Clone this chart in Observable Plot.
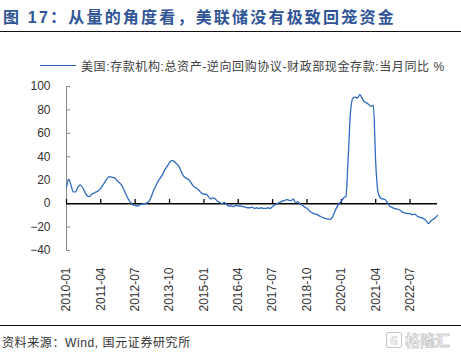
<!DOCTYPE html>
<html>
<head>
<meta charset="utf-8">
<script src="https://cdn.jsdelivr.net/npm/d3@7"></script>
<script src="https://cdn.jsdelivr.net/npm/@observablehq/plot@0.6"></script>
<style>
  html, body { margin: 0; padding: 0; background: #fff; }
  #wrap { position: relative; width: 461px; height: 352px; overflow: hidden;
          font-family: "Liberation Sans", Arial, "Noto Sans CJK SC", sans-serif; }
  #title { position: absolute; left: 3px; top: 4px; font-size: 16px; font-weight: bold;
           color: #2f5496; letter-spacing: 2.2px; white-space: nowrap;
           font-family: "Liberation Sans", "Noto Sans CJK SC", sans-serif; }
  .hr { position: absolute; left: 0; width: 461px; height: 1.5px; background: #111; }
  #legend { position: absolute; left: 40px; top: 57px; height: 16px; display: flex; align-items: center; white-space: nowrap; }
  #legend .sw { width: 36px; height: 0; border-top: 1.5px solid #1f5fa8; margin-right: 5px; }
  #legend .lt { font-size: 12px; color: #404040; letter-spacing: 0.6px;
                font-family: "Liberation Sans", "Noto Sans CJK SC", sans-serif; }
  #chart { position: absolute; left: 0; top: 76px; }
  #source { position: absolute; left: 2px; top: 333px; font-size: 12px; color: #333; letter-spacing: 0.6px; white-space: nowrap;
            font-family: "Liberation Sans", "Noto Sans CJK SC", sans-serif; }
  #wm { position: absolute; left: 386px; top: 329px; font-size: 15px; font-weight: bold; color: #fff;
        -webkit-text-stroke: 0.8px #c8c8c8; display: flex; align-items: center; letter-spacing: 0px;
        font-family: "Noto Sans CJK SC", sans-serif; }
  #wm .g { display: inline-block; width: 14px; height: 14px; border: 1.5px solid #c8c8c8; border-radius: 2px;
           font-size: 11px; line-height: 14px; text-align: center; margin-right: 3px; -webkit-text-stroke: 0.6px #c8c8c8; }
</style>
</head>
<body>
<div id="wrap">
  <div id="title">图 17：从量的角度看，美联储没有极致回笼资金</div>
  <div class="hr" style="top:30.5px"></div>
  <div id="legend"><div class="sw"></div><div class="lt" id="legendText"></div></div>
  <div id="chart"></div>
  <div class="hr" style="top:324.5px"></div>
  <div id="source">资料来源：Wind, 国元证券研究所</div>
  <div id="wm"><span class="g">G</span>格隆汇</div>
</div>
<script>
// ---- data ----
const seriesName = "美国:存款机构:总资产-逆向回购协议-财政部现金存款:当月同比 %";
const startYear = 2010;   // first month: 2010-01
const startMonth = 1;
// monthly YoY values (%), 2010-01 .. 2023-07
const values = [
  14, 21, 16, 10, 10, 14, 16, 14, 10, 7, 6, 8,                 // 2010
  9, 10, 11, 13, 16, 19, 22, 23, 22.5, 22, 20, 18,             // 2011
  16, 12, 8, 4, 1, -1, -1.5, -2, -1, -0.5, 0, 0.5,             // 2012
  2, 6, 11, 15, 19, 22, 25, 29, 32, 35, 37, 36,                // 2013
  34, 32, 28, 24, 22, 21, 19, 16, 14, 13, 11, 9,               // 2014
  8, 8, 6, 4, 5, 4, 2, 1, 0, 1, -1, -2,                        // 2015
  -2, -2.5, -1.5, -2, -2, -2.5, -3, -3.5, -3.5, -3, -4, -3.5,  // 2016
  -4, -3.5, -4, -4, -3.5, -4, -2.5, -1, 0, 1, 2, 2.5,          // 2017
  3.5, 3, 2.5, 4, 1, 1.5, 0, -1.5, -3, -4, -6, -7.5,           // 2018
  -8.5, -9, -10, -11, -12, -12.5, -13, -13.5, -12, -7.5, -3, 0,// 2019
  2, 5, 6, 40, 78, 90, 91, 90, 93, 90, 87, 86,                 // 2020
  84.5, 83, 84, 35, 10, 5, 4, 3.5, 1, -2, -3, -4,              // 2021
  -4.5, -5, -6, -7.5, -8, -8.5, -8.5, -9.5, -9, -10.5, -11.5, -12, // 2022
  -13, -14.5, -17, -15, -13.5, -12, -10                        // 2023
];
const xTickLabels = ["2010-01","2011-04","2012-07","2013-10","2015-01","2016-04","2017-07","2018-10","2020-01","2021-04","2022-07"];
const yTicks = [-40, -20, 0, 20, 40, 60, 80, 100];

// ---- build ----
document.getElementById("legendText").textContent = seriesName;
const toDate = (s) => { const [y, m] = s.split("-").map(Number); return new Date(Date.UTC(y, m - 1, 1)); };
const data = values.map((v, i) => ({ date: new Date(Date.UTC(startYear, startMonth - 1 + i, 1)), value: v }));
const xTicks = xTickLabels.map(toDate);
const x0 = data[0].date;
const x1 = data[data.length - 1].date;

const chart = Plot.plot({
  width: 461,
  height: 245,
  marginLeft: 66,
  marginRight: 24,
  marginTop: 10,
  marginBottom: 71,
  style: { fontFamily: "Liberation Sans, Arial, sans-serif", fontSize: "12px", color: "#333", background: "transparent", overflow: "visible" },
  x: { type: "utc", domain: [x0, x1], axis: null },
  y: { domain: [-40, 100] },
  marks: [
    Plot.ruleX([x0], { y1: -40, y2: 100, stroke: "#8a8a8a", strokeWidth: 1 }),
    Plot.axisY(yTicks, { anchor: "left", tickSize: -4, tickPadding: 20, stroke: "#8a8a8a", fill: "#333", fontSize: 12, label: null }),
    Plot.ruleY([0], { stroke: "#000", strokeWidth: 1.5 }),
    Plot.ruleX(xTicks, { x: d => d, y1: 0, y2: 3.5, stroke: "#000", strokeWidth: 1.3 }),
    Plot.line(data, { x: "date", y: "value", stroke: "#2f6bbf", strokeWidth: 1.3, curve: "monotone-x" }),
    Plot.text(xTicks, { x: d => d, text: (d, i) => xTickLabels[i], frameAnchor: "bottom", rotate: -90, textAnchor: "end", lineAnchor: "middle", dy: 17, fontSize: 12, fill: "#333" })
  ]
});
document.getElementById("chart").appendChild(chart);
</script>
</body>
</html>
